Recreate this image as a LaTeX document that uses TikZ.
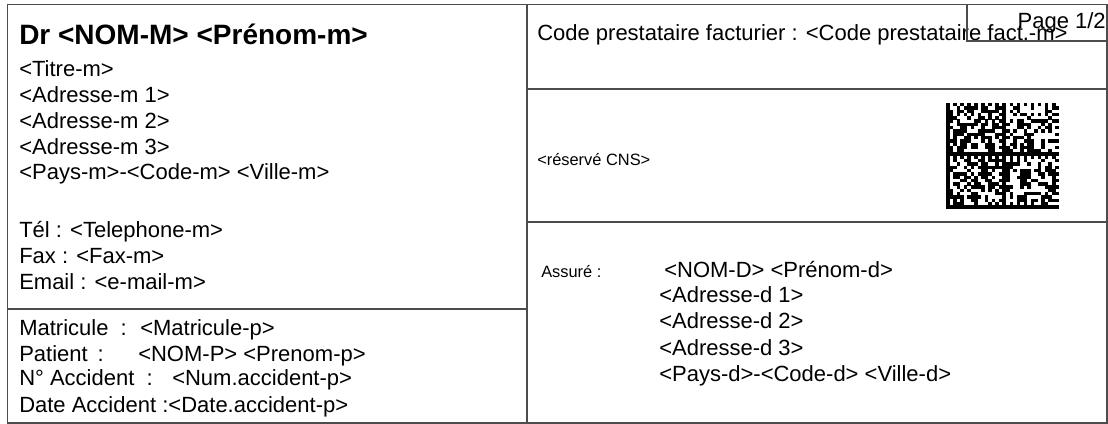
\documentclass[tikz,border=0pt]{standalone}
\usepackage{fontspec}
\setmainfont{Liberation Sans}
\usetikzlibrary{positioning}

\tikzset{
  cadre/.style={draw=black!70, line width=1.3pt},
  txt/.style={anchor=base west, inner sep=0pt, font=\fontsize{16.5}{19}\selectfont},
  petit/.style={anchor=base west, inner sep=0pt, font=\fontsize{12.3}{14}\selectfont},
  titre/.style={anchor=base west, inner sep=0pt, font=\fontsize{21}{25}\selectfont\bfseries},
}

\begin{document}
\begin{tikzpicture}[x=0.75pt,y=-0.75pt]
    \useasboundingbox (0,0) rectangle (1108,424);

    % cadres
    \draw[cadre] (7.5,4.5) rectangle (1107,423);
    \draw[cadre] (527,4.5) -- (527,423);
    \draw[cadre] (7.5,309) -- (527,309);
    \draw[cadre] (527,89) -- (1107,89);
    \draw[cadre] (527,222) -- (1107,222);

    % medecin
    \node[titre] (medecin) at (19,45) {Dr <NOM-M> <Prénom-m>};
    \foreach \n/\y/\t in
    {titrem/77/<Titre-m>,
     adrm1/103/<Adresse-m 1>,
     adrm2/129/<Adresse-m 2>,
     adrm3/155/<Adresse-m 3>,
     villem/180/<Pays-m>-<Code-m> <Ville-m>,
     telm/238/Tél : <Telephone-m>,
     faxm/264/Fax : <Fax-m>,
     mailm/290/Email : <e-mail-m>
    }
    {
        \node[txt] (\n) at (19,\y) {\t};
    };

    % patient
    \node[txt] (matlab) at (19,335) {Matricule\ \ :};
    \node[txt] (matval) at (140,335) {<Matricule-p>};
    \node[txt] (patlab) at (19,361) {Patient\ \,:};
    \node[txt] (patval) at (138,361) {<NOM-P> <Prenom-p>};
    \node[txt] (acclab) at (19,386) {N° Accident\ \ :};
    \node[txt] (accval) at (172,386) {<Num.accident-p>};
    \node[txt] (datlab) at (19,412) {Date Accident :<Date.accident-p>};

    % prestataire
    \node[txt] (code) at (537,41) {Code prestataire facturier : <Code prestataire fact.-m>};
    \draw[cadre, line width=0.9pt] (967,4.5) rectangle (1107,41);
    \node[txt, anchor=base east] (page) at (1106,29) {Page 1/2};

    \node[petit] (cns) at (537,166) {<réservé CNS>};

    % code 2D
    \pgfmathsetseed{2024}
    \foreach \i in {0,...,31}
    {
        \foreach \j in {0,...,31}
        {
            \pgfmathtruncatemacro\li{mod(\i,16)}
            \pgfmathtruncatemacro\lj{mod(\j,16)}
            \pgfmathtruncatemacro\pix{(\li==0 || \lj==15) ? 1 : ((\lj==0) ? (\li==2*int(\li/2)) : ((\li==15) ? (\lj!=2*int(\lj/2)) : (rnd<0.5)))}
            \ifnum\pix=1
                \fill ({946+3.53*\i},{103+3.3*\j}) rectangle ++(3.6,3.4);
            \fi
        };
    };

    % assure
    \node[petit] (assure) at (541,277) {Assuré :};
    \foreach \n/\x/\y/\t in
    {nomd/664/277/<NOM-D> <Prénom-d>,
     adrd1/659/303/<Adresse-d 1>,
     adrd2/659/329/<Adresse-d 2>,
     adrd3/659/355/<Adresse-d 3>,
     villed/659/382/<Pays-d>-<Code-d> <Ville-d>
    }
    {
        \node[txt] (\n) at (\x,\y) {\t};
    };
\end{tikzpicture}
\end{document}
